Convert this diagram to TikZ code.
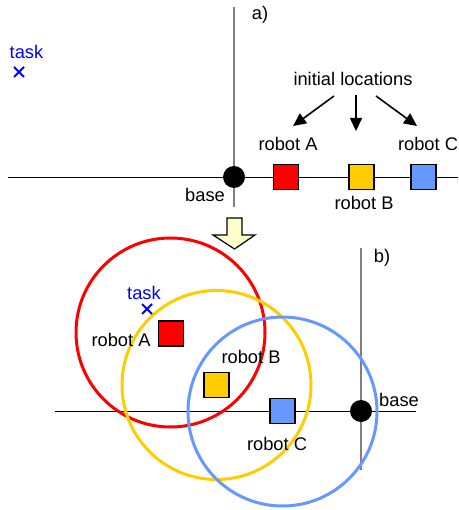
\documentclass[tikz,border=0pt]{standalone}
\usepackage{fontspec}
\setmainfont{Liberation Sans}
\usetikzlibrary{arrows.meta}
\definecolor{rred}{HTML}{FF0000}
\definecolor{ryel}{HTML}{FFCC00}
\definecolor{rblu}{HTML}{6699FF}
\definecolor{tblu}{HTML}{0000FF}
\definecolor{axgray}{HTML}{808080}
\definecolor{pale}{HTML}{FFFFCC}
\tikzset{
  lbl/.style={font=\fontsize{18.3}{21}\selectfont, inner sep=0pt, anchor=base},
  tasklbl/.style={lbl, text=tblu},
  robotsq/.style={draw=black, line width=1.6pt, minimum size=25pt, inner sep=0pt},
  basedot/.style={circle, fill=black, minimum size=22pt, inner sep=0pt},
  axis/.style={axgray, line width=1.4pt},
  hline/.style={black, line width=0.9pt},
  rangecircle/.style={line width=3pt},
  xmark/.style={tblu, line width=1.8pt},
  pointer/.style={line width=1.6pt, -{Triangle[length=13pt,width=12pt]}},
}
\begin{document}
\begin{tikzpicture}[x=1pt,y=-1pt]
\useasboundingbox (0,0) rectangle (458,510);
% ---- part a ----
\draw[axis] (234,7) -- (234,207);
\draw[hline] (8,177) -- (458,177);
\node[basedot] (baseA) at (234,177) {};
\node[robotsq, fill=rred] (rA) at (286,177) {};
\node[robotsq, fill=ryel] (rB) at (361.5,177) {};
\node[robotsq, fill=rblu] (rC) at (423.5,177) {};
\node[lbl] (la) at (260,20) {a)};
\node[tasklbl] (taskA) at (26.5,59) {task};
\draw[xmark] (14,67) -- (24,77) (24,67) -- (14,77);
\node[lbl] (baseAl) at (205,202) {base};
\node[lbl] (lrA) at (288,151) {robot A};
\node[lbl] (lrB) at (364,210) {robot B};
\node[lbl] (lrC) at (428,151) {robot C};
\node[lbl] (init) at (353,86) {initial locations};
\coordinate (eA) at (293,126);
\coordinate (eB) at (356,131);
\coordinate (eC) at (417,126);
\draw[pointer] (334,96) -- (eA);
\draw[pointer] (356,95) -- (eB);
\draw[pointer] (376,96) -- (eC);
% block arrow
\draw[fill=pale, line width=1.2pt, line join=miter]
  (227,218) -- (242,218) -- (242,235) -- (255,235) -- (234.5,249) -- (213,235) -- (227,235) -- cycle;
% ---- part b ----
\draw[axis] (361,248) -- (361,470);
\draw[hline] (55,411) -- (416,411);
\draw[rangecircle, rred] (170.5,332.5) circle (94.5);
\draw[rangecircle, ryel] (216.5,385) circle (94.5);
\draw[rangecircle, rblu] (282.5,411.5) circle (94.5);
\node[basedot] (baseB) at (361,411) {};
\node[robotsq, fill=rred] (rA2) at (171,333.5) {};
\node[robotsq, fill=ryel] (rB2) at (216.5,385) {};
\node[robotsq, fill=rblu] (rC2) at (282.5,411) {};
\node[lbl] (lb) at (382,262) {b)};
\node[tasklbl] (taskB) at (144,299) {task};
\draw[xmark] (142,304) -- (152,314) (152,304) -- (142,314);
\node[lbl] (lrA2) at (121,346) {robot A};
\node[lbl] (lrB2) at (251,363) {robot B};
\node[lbl] (lrC2) at (277,450) {robot C};
\node[lbl] (baseBl) at (399,406) {base};
\end{tikzpicture}
\end{document}
